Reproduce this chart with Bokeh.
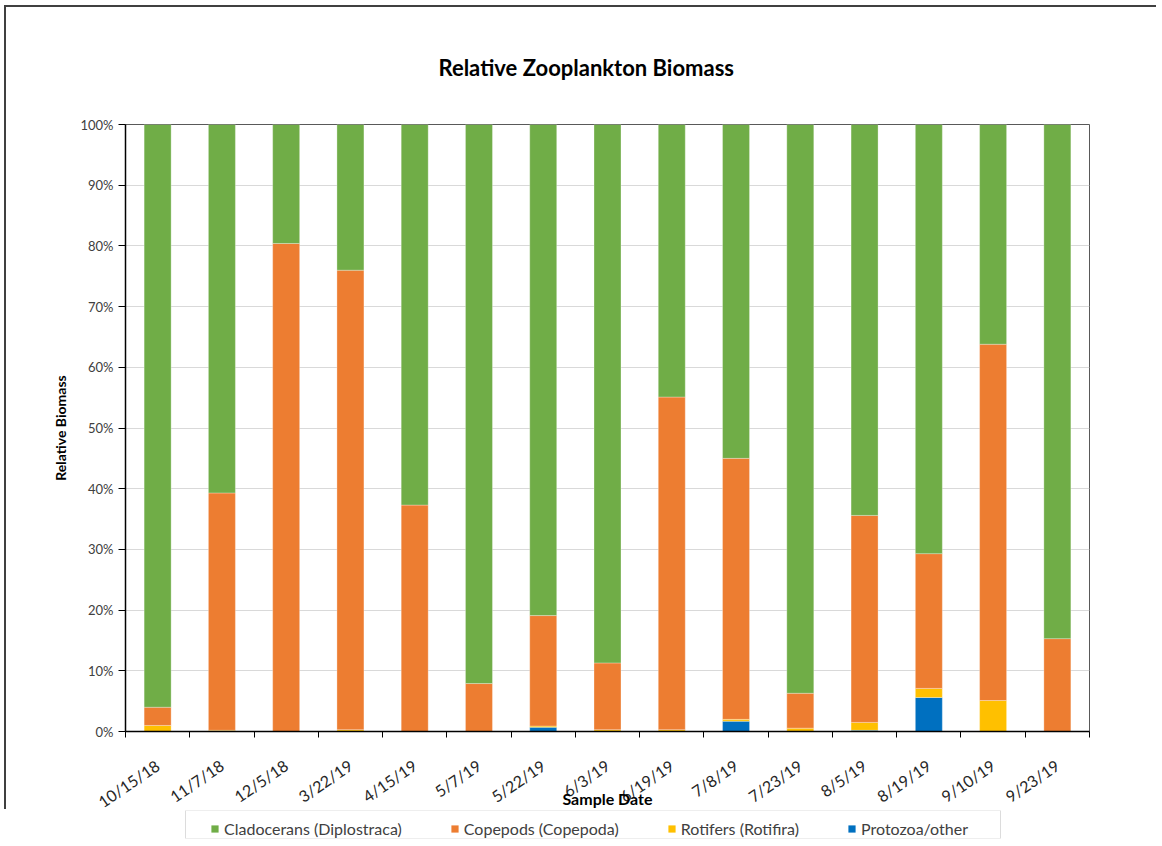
from bokeh.plotting import figure
from bokeh.layouts import column
from bokeh.models import (Range1d, FixedTicker, NumeralTickFormatter,
                          Legend, LegendItem, ColumnDataSource, BoxAnnotation)
from bokeh.embed import file_html
from bokeh.resources import INLINE

# ---- data (percent of total biomass) ----
dates = ["10/15/18", "11/7/18", "12/5/18", "3/22/19", "4/15/19", "5/7/19",
         "5/22/19", "6/3/19", "6/19/19", "7/8/19", "7/23/19", "8/5/19",
         "8/19/19", "9/10/19", "9/23/19"]
protozoa = [0, 0, 0, 0, 0, 0, 0.7, 0, 0, 1.7, 0, 0.2, 5.6, 0, 0]
rotifers = [1.0, 0.2, 0, 0.3, 0, 0, 0.2, 0.3, 0.3, 0.3, 0.55, 1.3, 1.5, 5.1, 0]
copepods = [3.0, 39.1, 80.4, 75.7, 37.3, 7.9, 18.2, 11.0, 54.8, 43.0, 5.75, 34.1, 22.2, 58.7, 15.3]
cladocerans = [96.0, 60.7, 19.6, 24.0, 62.7, 92.1, 80.9, 88.7, 44.9, 55.0, 93.7, 64.4, 70.7, 36.2, 84.7]

series_keys = ["protozoa", "rotifers", "copepods", "cladocerans"]
series_names = {"cladocerans": "Cladocerans (Diplostraca)",
                "copepods": "Copepods (Copepoda)",
                "rotifers": "Rotifers (Rotifira)",
                "protozoa": "Protozoa/other"}
series_colors = {"cladocerans": "#70AD47", "copepods": "#ED7D31",
                 "rotifers": "#FFC000", "protozoa": "#0070C0"}
legend_order = ["cladocerans", "copepods", "rotifers", "protozoa"]
y_ticks = [i / 10 for i in range(11)]

FONT = "Lato"

xs = [i + 0.5 for i in range(len(dates))]
src = ColumnDataSource(dict(
    x=xs,
    protozoa=[v / 100 for v in protozoa],
    rotifers=[v / 100 for v in rotifers],
    copepods=[v / 100 for v in copepods],
    cladocerans=[v / 100 for v in cladocerans],
))

# ---------------- main chart ----------------
W, H = 1152, 804
p = figure(width=W, height=H, x_range=Range1d(0, len(dates)), y_range=Range1d(0, 1),
           output_backend="svg", toolbar_location=None, tools="",
           min_border_left=119, min_border_right=W - 1083, min_border_top=117,
           min_border_bottom=H - 724,
           title="Relative Zooplankton Biomass")
p.styles = {"border-top": "2px solid #404040", "border-left": "2px solid #404040",
            "margin-top": "5px", "margin-left": "4px"}

p.title.align = "left"
p.title.offset = 313
p.title.standoff = 88
p.title.text_font = FONT
p.title.text_font_style = "bold"
p.title.text_font_size = "22px"
p.title.text_color = "black"

rs = p.vbar_stack(series_keys, x="x", width=0.42, source=src,
                  fill_color=[series_colors[k] for k in series_keys],
                  line_color="white", line_alpha=0.5, line_width=0.6)

p.outline_line_color = "#595959"
p.outline_line_width = 1
p.xgrid.visible = False
p.ygrid.grid_line_color = "#D9D9D9"
p.ygrid.grid_line_width = 1

# y axis
ya = p.yaxis[0]
ya.ticker = FixedTicker(ticks=y_ticks)
ya.formatter = NumeralTickFormatter(format="0%")
ya.axis_line_color = "black"
ya.axis_line_width = 1.5
ya.major_tick_line_color = "black"
ya.major_tick_out = 7
ya.major_tick_in = 0
ya.minor_tick_line_color = None
ya.major_label_text_font = FONT
ya.major_label_text_font_size = "13px"
ya.major_label_text_color = "#404040"
ya.major_label_standoff = 5
ya.axis_label = "Relative Biomass"
ya.axis_label_text_font = FONT
ya.axis_label_text_font_style = "bold"
ya.axis_label_text_font_size = "14px"
ya.axis_label_text_color = "black"
ya.axis_label_standoff = 8

# x axis
xa = p.xaxis[0]
xa.ticker = FixedTicker(ticks=xs, minor_ticks=list(range(len(dates) + 1)))
xa.major_label_overrides = {x: d for x, d in zip(xs, dates)}
xa.major_tick_line_color = None
xa.major_tick_out = 6
xa.minor_tick_line_color = "black"
xa.minor_tick_out = 6
xa.minor_tick_in = 0
xa.axis_line_color = "black"
xa.axis_line_width = 1.5
xa.major_label_orientation = 0.6
xa.major_label_text_font = FONT
xa.major_label_text_font_size = "16px"
xa.major_label_text_color = "#262626"
xa.major_label_standoff = 26
xa.axis_label = "Sample Date"
xa.axis_label_text_font = FONT
xa.axis_label_text_font_style = "bold"
xa.axis_label_text_font_size = "16px"
xa.axis_label_text_color = "black"
xa.axis_label_standoff = -33

# ---------------- legend strip ----------------
W2, H2 = 1152, 32
pl = figure(width=W2, height=H2, x_range=Range1d(0, 1), y_range=Range1d(0, 1),
            output_backend="svg", toolbar_location=None, tools="",
            x_axis_location=None, y_axis_location=None,
            min_border_left=119, min_border_right=W2 - 1083,
            min_border_top=1, min_border_bottom=3)
pl.styles = {"margin-left": "6px"}
pl.grid.visible = False
pl.outline_line_color = None
pl.add_layout(BoxAnnotation(left=(185 - 125) / 964, right=(1000 - 125) / 964,
                            fill_alpha=0, line_color="#8C8C8C", line_width=1))

proxies = pl.vbar_stack(series_keys, x="x", width=0.42, source=src,
                        fill_color=[series_colors[k] for k in series_keys],
                        line_color=None, visible=False)
pmap = dict(zip(series_keys, proxies))
legend = Legend(items=[LegendItem(label=series_names[k], renderers=[pmap[k]])
                       for k in legend_order],
                orientation="horizontal", location=(85, 0))
legend.label_text_font = FONT
legend.label_text_font_size = "16px"
legend.label_text_color = "#404040"
legend.glyph_width = 9
legend.glyph_height = 9
legend.label_height = 16
legend.label_standoff = 5
legend.spacing = 48
legend.padding = 6
legend.margin = 0
legend.border_line_color = None
legend.background_fill_alpha = 0
legend.inactive_fill_alpha = 0
pl.add_layout(legend)

layout = column(p, pl, spacing=0)
open("out.html", "w").write(file_html(layout, INLINE))
